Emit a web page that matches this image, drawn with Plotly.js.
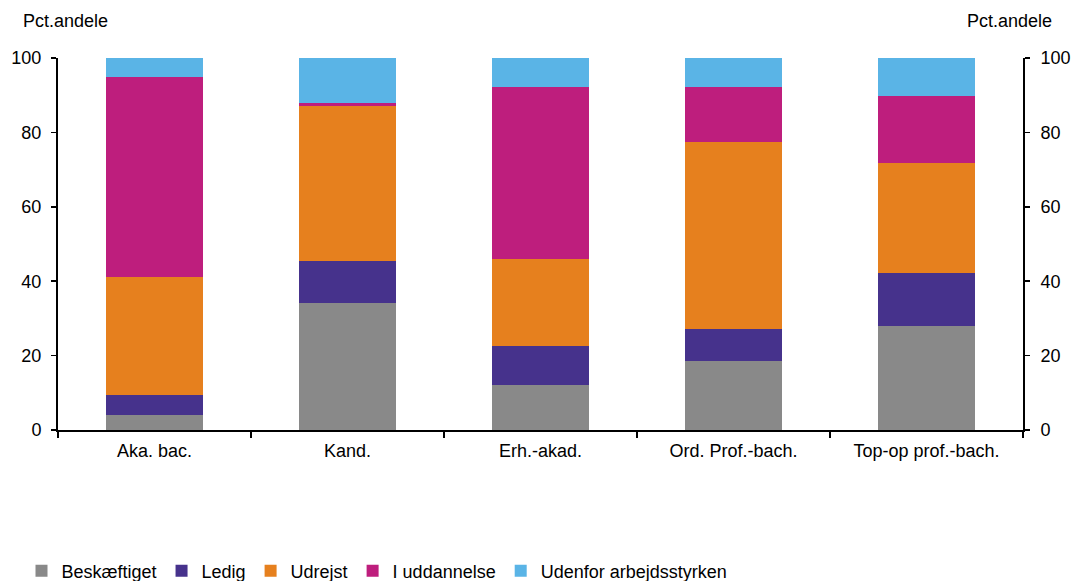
<!DOCTYPE html>
<html>
<head>
<meta charset="utf-8">
<script src="https://cdn.plot.ly/plotly-3.0.1.min.js"></script>
<style>html,body{margin:0;padding:0;background:#fff;}#chart{width:1075px;height:581px;}</style>
</head>
<body>
<div id="chart"></div>
<script>
var categories = ["Aka. bac.", "Kand.", "Erh.-akad.", "Ord. Prof.-bach.", "Top-op prof.-bach."];
var beskaeftiget = [3.9, 34.2, 12.0, 18.5, 27.9];
var ledig = [5.6, 11.3, 10.5, 8.7, 14.3];
var udrejst = [31.7, 41.6, 23.6, 50.1, 29.5];
var iUddannelse = [53.6, 0.8, 46.0, 14.8, 18.0];
var udenfor = [5.2, 12.1, 7.9, 7.9, 10.3];
var seriesNames = ["Beskæftiget", "Ledig", "Udrejst", "I uddannelse", "Udenfor arbejdsstyrken"];
var seriesColors = ["#898989", "#46328C", "#E6801E", "#BE1E7D", "#5AB4E6"];
var yTicks = [0, 20, 40, 60, 80, 100];

var seriesData = [beskaeftiget, ledig, udrejst, iUddannelse, udenfor];
var traces = seriesData.map(function (vals, i) {
  return {
    type: "bar",
    x: categories,
    y: vals,
    name: seriesNames[i],
    marker: {color: seriesColors[i], line: {width: 0}},
    hoverinfo: "y+name"
  };
});
// empty helper trace so the right-hand axis is drawn
traces.push({type: "scatter", x: [], y: [], yaxis: "y2", showlegend: false, hoverinfo: "skip"});

var font = {family: "Liberation Sans, Arial, sans-serif", size: 18, color: "#000"};

var layout = {
  width: 1075,
  height: 581,
  barmode: "stack",
  bargap: 0.5,
  paper_bgcolor: "#fff",
  plot_bgcolor: "#fff",
  font: font,
  showlegend: true,
  margin: {l: 58, r: 52, t: 58, b: 151},
  xaxis: {
    type: "category",
    showline: true,
    linecolor: "#000",
    linewidth: 2,
    ticks: "outside",
    tickson: "boundaries",
    ticklen: 6,
    tickcolor: "#000",
    tickwidth: 1.5,
    showgrid: false,
    zeroline: false,
    tickfont: font,
    ticklabelstandoff: 3
  },
  yaxis: {
    range: [0, 100],
    tickvals: yTicks,
    showline: true,
    linecolor: "#000",
    linewidth: 2,
    ticks: "outside",
    ticklen: 5,
    tickcolor: "#000",
    tickwidth: 1.5,
    showgrid: false,
    zeroline: false,
    tickfont: font,
    ticklabelstandoff: 6
  },
  yaxis2: {
    range: [0, 100],
    tickvals: yTicks,
    overlaying: "y",
    side: "right",
    showline: true,
    linecolor: "#000",
    linewidth: 2,
    ticks: "outside",
    ticklen: 5,
    tickcolor: "#000",
    tickwidth: 1.5,
    showgrid: false,
    zeroline: false,
    tickfont: font,
    ticklabelstandoff: 7
  },
  legend: {
    orientation: "h",
    xref: "container",
    yref: "container",
    x: 0.02,
    xanchor: "left",
    y: 0.017,
    yanchor: "middle",
    font: font,
    itemwidth: 30,
    tracegroupgap: 0,
    traceorder: "normal"
  },
  annotations: [
    {text: "Pct.andele", xref: "paper", yref: "paper", x: -0.038, y: 1.1, xanchor: "left", yanchor: "middle", showarrow: false, font: font},
    {text: "Pct.andele", xref: "paper", yref: "paper", x: 1.032, y: 1.1, xanchor: "right", yanchor: "middle", showarrow: false, font: font}
  ]
};

Plotly.newPlot("chart", traces, layout, {staticPlot: true, displayModeBar: false});
</script>
</body>
</html>
